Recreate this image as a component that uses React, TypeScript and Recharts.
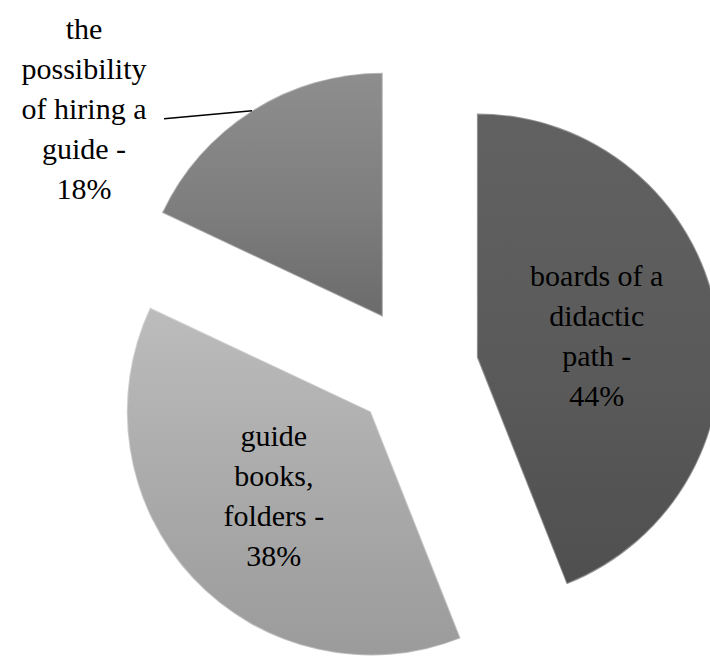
import React from "react"
import { PieChart, Pie, Cell } from "recharts"

const names = ["boards of a didactic path", "guide books, folders", "the possibility of hiring a guide"]
const values = [44, 38, 18]
const labelLines = [
  ["boards of a", "didactic", "path -", "44%"],
  ["guide", "books,", "folders -", "38%"],
  ["the", "possibility", "of hiring a", "guide -", "18%"],
]
const gradients = [
  ["#616161", "#5a5a5a", "#4f4f4f"],
  ["#bcbcbc", "#a9a9a9", "#9b9b9b"],
  ["#8e8e8e", "#7e7e7e", "#6b6b6b"],
]
const outside = [false, false, true]

const data = names.map((name, i) => ({ name, value: values[i] }))
const total = values.reduce((a, b) => a + b, 0)

const W = 710
const H = 659
const CX = 416
const CY = 369
const R = 244
const EXPLODE = 62
const FONT = "Liberation Serif"
const FS = 30
const RAD = Math.PI / 180

// bisector of each slice (recharts angle convention, clockwise from 12 o'clock)
const mids = (() => {
  let cum = 0
  return values.map((v) => {
    const m = 90 - ((cum + v / 2) / total) * 360
    cum += v
    return m
  })
})()

function TextLines({ x, y, lines }: { x: number; y: number; lines: string[] }) {
  return (
    <>
      {lines.map((l, k) => (
        <text key={k} className="lbl" x={x} y={y + k * 40} fill="#000" textAnchor="middle"
          fontFamily={FONT} fontSize={FS} style={{ fontFamily: FONT, fontSize: FS }}>
          {l}
        </text>
      ))}
    </>
  )
}

function makeLabel(slice: number) {
  return (p: any) => {
    if (p.index !== slice) return null
    const lines = labelLines[slice]
    const ox = Math.cos(-p.midAngle * RAD)
    const oy = Math.sin(-p.midAngle * RAD)
    if (!outside[slice]) {
      const lx = p.cx + ox * p.outerRadius * 0.5 - (slice === 1 ? 8 : 0)
      const ly = p.cy + oy * p.outerRadius * 0.5
      const y0 = ly + 11 - ((lines.length - 1) * 40) / 2
      return <g><TextLines x={lx} y={y0} lines={lines} /></g>
    }
    const ex = p.cx + ox * p.outerRadius
    const ey = p.cy + oy * p.outerRadius
    const tx = ex - 88
    const ty = ey + 8
    const y0 = ty - ((lines.length - 1) * 40) / 2
    return (
      <g>
        <path d={`M${ex},${ey} L${tx},${ty}`} stroke="#000" strokeWidth={1.5} fill="none" />
        <TextLines x={tx - 80} y={y0} lines={lines} />
      </g>
    )
  }
}

export default function App() {
  return (
    <div style={{ position: "absolute", left: 0, top: 0, width: W, height: H, background: "#fff", fontFamily: FONT }}>
      <style>{`text.lbl { font-family: "Liberation Serif", serif !important; }`}</style>
      <div style={{ position: "absolute", left: 0, top: 0, fontFamily: FONT, fontSize: FS, color: "#fff", opacity: 0.01, pointerEvents: "none" }}>
        {labelLines.map((l) => l.join(" ")).join(" ")}
      </div>
      <PieChart width={W} height={H} margin={{ top: 0, right: 0, bottom: 0, left: 0 }}>
        <defs>
          {gradients.map((g, i) => (
            <linearGradient key={i} id={`slice${i}`} x1="0" y1="0" x2="0" y2="1">
              <stop offset="0%" stopColor={g[0]} />
              <stop offset="55%" stopColor={g[1]} />
              <stop offset="100%" stopColor={g[2]} />
            </linearGradient>
          ))}
        </defs>
        {values.map((_, s) => (
          <Pie
            key={s}
            data={data}
            dataKey="value"
            nameKey="name"
            cx={CX + Math.cos(mids[s] * RAD) * EXPLODE}
            cy={CY - Math.sin(mids[s] * RAD) * EXPLODE}
            outerRadius={R}
            startAngle={90}
            endAngle={-270}
            labelLine={false}
            label={makeLabel(s)}
            isAnimationActive={false}
          >
            {data.map((_, i) => (
              <Cell
                key={i}
                fill={i === s ? `url(#slice${i})` : "none"}
                stroke={i === s ? "rgba(255,255,255,0.35)" : "none"}
                strokeWidth={2}
              />
            ))}
          </Pie>
        ))}
      </PieChart>
    </div>
  )
}
